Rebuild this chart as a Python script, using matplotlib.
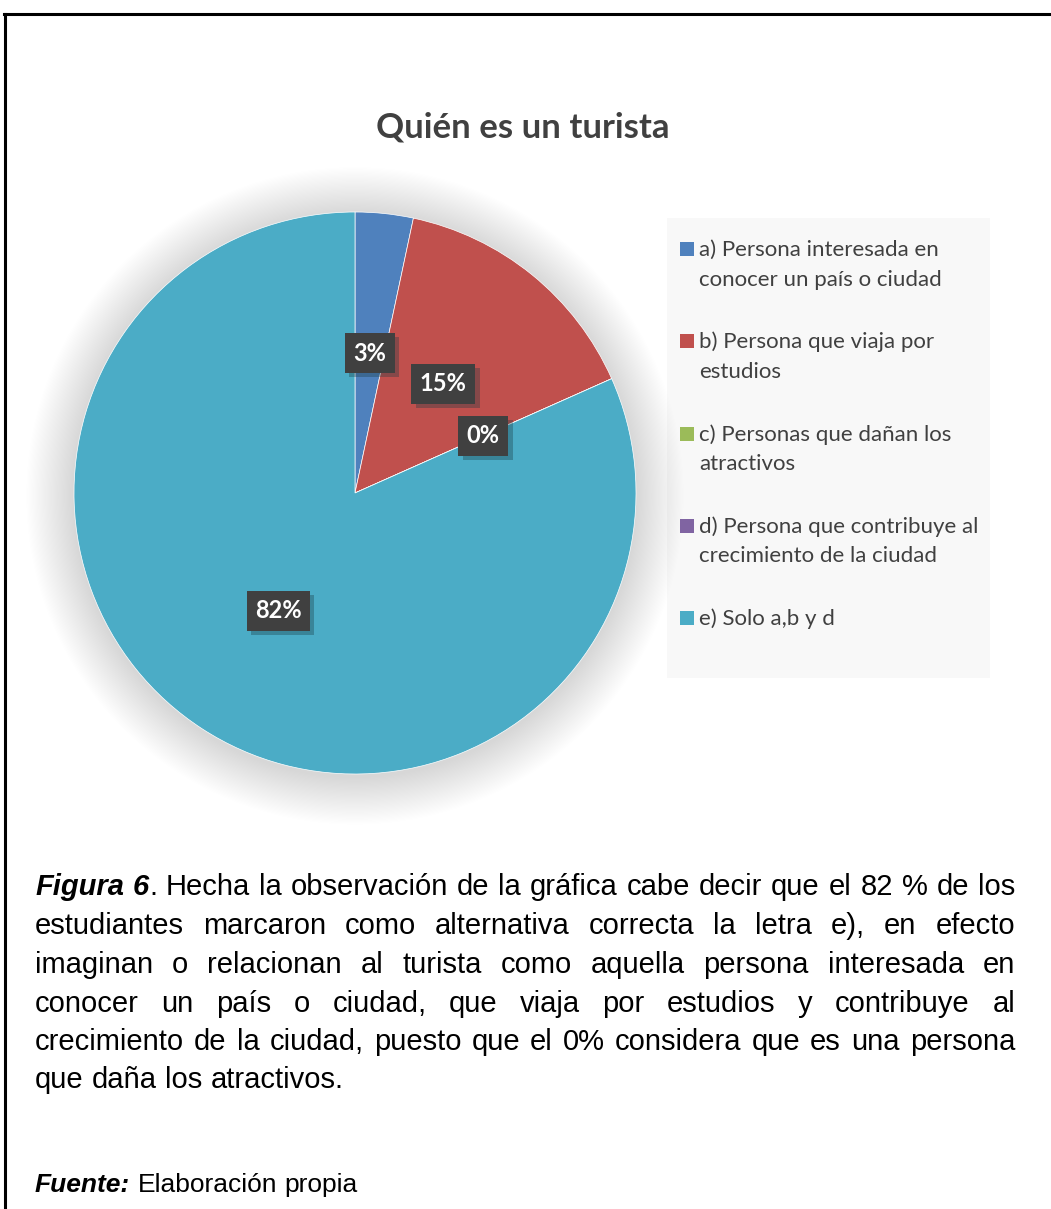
import matplotlib
matplotlib.use('Agg')
import matplotlib.pyplot as plt
from matplotlib.patches import Circle, Rectangle
from matplotlib.lines import Line2D
import matplotlib.patheffects as pe

# ---------------- data ----------------
title = "Quién es un turista"
categories = [
    "a) Persona interesada en\nconocer un país o ciudad",
    "b) Persona que viaja por\nestudios",
    "c) Personas que dañan los\natractivos",
    "d) Persona que contribuye al\ncrecimiento de la ciudad",
    "e) Solo a,b y d",
]
values = [2, 9, 0, 0, 49]
colors = ["#4F81BD", "#C0504D", "#9BBB59", "#8064A2", "#4BACC6"]

body_lines = [
    "*Figura 6*. Hecha la observación de la gráfica cabe decir que el 82 % de los",
    "estudiantes marcaron como alternativa correcta la letra e), en efecto",
    "imaginan o relacionan al turista como aquella persona interesada en",
    "conocer un país o ciudad, que viaja por estudios y contribuye al",
    "crecimiento de la ciudad, puesto que el 0% considera que es una persona",
    "que daña los atractivos.",
]
source_line = "*Fuente:* Elaboración propia"

# ---------------- figure ----------------
W, H = 1051, 1209
fig = plt.figure(figsize=(W / 100, H / 100), dpi=100)
fig.patch.set_facecolor('white')


def fx(px):
    return px / W


def fy(py):
    return 1 - py / H


# frame lines
fig.add_artist(Line2D([fx(4), fx(W)], [fy(14), fy(14)], color='black', lw=2.2,
                      transform=fig.transFigure))
fig.add_artist(Line2D([fx(5), fx(5)], [fy(14), fy(H)], color='black', lw=2.2,
                      transform=fig.transFigure))

# title
fig.text(fx(523), fy(137), title, ha='center', va='baseline', fontsize=25,
         fontweight='bold', color='#404040', family='Lato')

# pie
R, cx, cy = 281, 355, 493
lim = 1.25
ax = fig.add_axes([fx(cx - R * lim), fy(cy + R * lim), 2 * R * lim / W, 2 * R * lim / H])
n_glow = 40
for k in range(n_glow):
    ax.add_patch(Circle((0, -0.01), 1 + 0.17 * (1 - k / n_glow), color='black',
                        alpha=0.005, lw=0, zorder=0))
wedges, texts, autotexts = ax.pie(
    values, colors=colors, startangle=90, counterclock=False,
    autopct=lambda p: f"{p:.0f}%", pctdistance=0.5,
    wedgeprops=dict(edgecolor='white', linewidth=0.5),
    textprops=dict(color='white', fontsize=17, fontweight='bold', family='Lato'))
for w in wedges:
    w.set_zorder(2)
for at in autotexts:
    at.set_zorder(5)
    at.set_bbox(dict(boxstyle='square,pad=0.36', fc='#404040', ec='none'))
    at.get_bbox_patch().set_path_effects([
        pe.SimplePatchShadow(offset=(3, -3), shadow_rgbFace='#1a3a44', alpha=0.35),
        pe.Normal()])
autotexts[3].set_visible(False)
ax.set_xlim(-lim, lim)
ax.set_ylim(-lim, lim)
ax.axis('off')

# legend (manual, to align markers with first text line)
fig.add_artist(Rectangle((fx(667), fy(678)), (990 - 667) / W, (678 - 218) / H,
                         transform=fig.transFigure, fc='#f8f8f8', ec='none', zorder=0))
leg_y0, leg_step = 249, 92.3
for i, (lab, col) in enumerate(zip(categories, colors)):
    yc = leg_y0 + i * leg_step
    fig.add_artist(Rectangle((fx(680), fy(yc + 7)), 14 / W, 14 / H,
                             transform=fig.transFigure, fc=col, ec='none'))
    for j, line in enumerate(lab.split('\n')):
        fig.text(fx(699), fy(yc + 7 + j * 29.5), line, ha='left', va='baseline',
                 fontsize=16, color='#404040', family='Lato')

# ---------------- body text (justified) ----------------
renderer = fig.canvas.get_renderer()


def props(style, fs):
    d = dict(family='Liberation Sans', fontsize=fs, color='black')
    if style == 'bi':
        d.update(fontweight='bold', fontstyle='italic')
    return d


def measure(s, style, fs):
    t = fig.text(0, 0, s, **props(style, fs))
    w = t.get_window_extent(renderer).width
    t.remove()
    return w


def parse(line):
    words = []
    style = 'n'
    for token in line.split(' '):
        segs = []
        parts = token.split('*')
        for k, p in enumerate(parts):
            if k > 0:
                style = 'bi' if style == 'n' else 'n'
            if p:
                segs.append((p, style))
        words.append(segs)
    return words


def draw_line(line, y, x0, x1, justify, fs):
    words = parse(line)
    widths = [[measure(s, st, fs) for s, st in w] for w in words]
    total = sum(sum(w) for w in widths)
    space = measure('a a', 'n', fs) - measure('aa', 'n', fs)
    if justify and len(words) > 1:
        gap = (x1 - x0 - total) / (len(words) - 1)
    else:
        gap = space
    x = x0
    for w, ws in zip(words, widths):
        for (s, st), sw in zip(w, ws):
            fig.text(fx(x), fy(y), s, ha='left', va='baseline', **props(st, fs))
            x += sw
        x += gap


baselines = [895, 934.5, 973, 1011.5, 1050, 1088.5]
for k, (line, yb) in enumerate(zip(body_lines, baselines)):
    draw_line(line, yb, 35, 1015, justify=(k < len(body_lines) - 1), fs=21)
draw_line(source_line, 1192, 35, 1015, justify=False, fs=19)

fig.savefig('out.png', dpi=100, facecolor='white')
